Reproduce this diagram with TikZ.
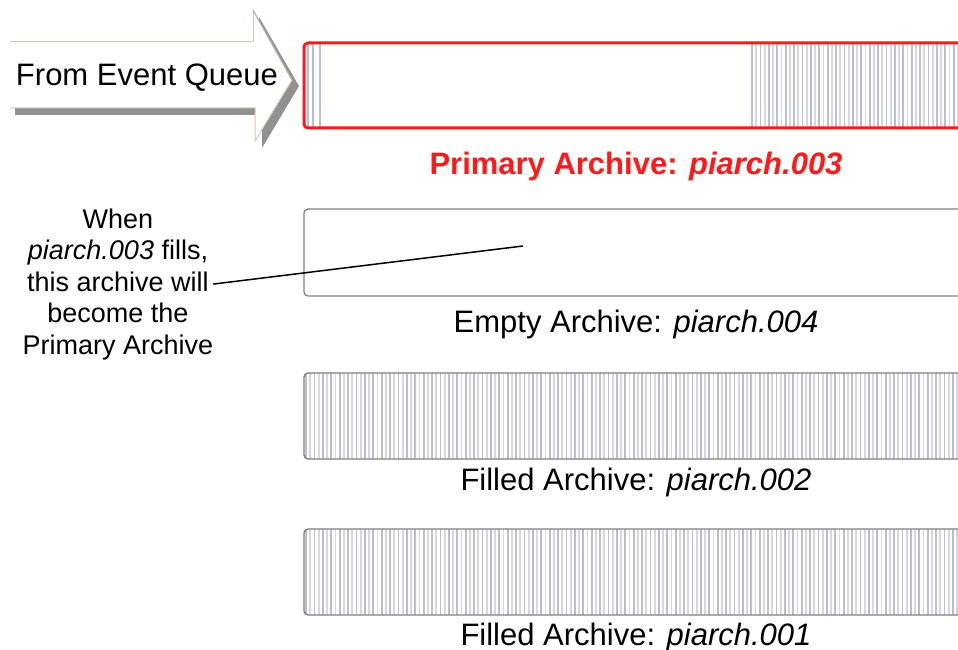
\documentclass[tikz,border=0pt]{standalone}
\usepackage{fontspec}
\setmainfont{Liberation Sans}
\usepackage{tikz}

\begin{document}
\begin{tikzpicture}[x=1pt, y=-1pt,
    inner sep=0pt, outer sep=0pt,
    archbox/.style={draw=boxgray, line width=1.3pt, rounded corners=4pt},
    primarybox/.style={draw=archred, line width=3pt, rounded corners=4pt},
    archlabel/.style={font=\fontsize{31}{36}\selectfont, anchor=base},
    primarylabel/.style={archlabel, text=archred, font=\fontsize{31}{36}\selectfont\bfseries},
    remark/.style={font=\fontsize{27}{31.5}\selectfont, align=center},
    stripe/.style={line width=1.8pt},
    pointer/.style={line width=1.5pt, black},
]
    % Colors
    \definecolor{archred}{RGB}{255,25,25}
    \definecolor{boxgray}{RGB}{128,128,128}
    \definecolor{stripedark}{RGB}{188,188,210}
    \definecolor{stripelight}{RGB}{214,214,230}
    \definecolor{arrowedge}{RGB}{215,200,180}
    \definecolor{arrowrim}{RGB}{185,175,160}
    \definecolor{arrowshadow}{RGB}{145,145,145}

    % Frame
    \useasboundingbox (0,0) rectangle (958,650);
    \clip (0,0) rectangle (958,650);

    % Incoming arrow with its shadow
    \fill[arrowshadow] (15,49) -- (259,49) -- (259,17) -- (299,86) -- (262,148)
        -- (262,115) -- (15,115) -- cycle;
    \fill[white] (10,42) -- (253,42) -- (253,10) -- (292,80) -- (255,141)
        -- (255,108) -- (10,108) -- cycle;
    \draw[arrowedge, line width=1pt] (10,42) -- (253,42) -- (253,10);
    \draw[arrowrim, line width=1.2pt] (253,10) -- (292,80);
    \draw[arrowedge, line width=1pt] (292,80) -- (255,141) -- (255,108) -- (10,108);
    \node[archlabel, anchor=base west] (queue) at (16,86) {From Event Queue};

    % Primary archive, partly filled
    \begin{scope}
        \clip[rounded corners=4pt] (304,43) rectangle (975,128);
        \foreach \x in {308,313,320}
            \draw[stripe, stripedark] (\x,43) -- (\x,128);
        \foreach \x in {752,760.4,...,975} {
            \draw[stripe, stripedark]  (\x,43) -- (\x,128);
            \draw[stripe, stripelight] (\x+4.2,43) -- (\x+4.2,128);
        }
    \end{scope}
    \draw[primarybox] (304,43) rectangle (975,128);
    \node[primarylabel] (primary) at (636,174) {Primary Archive: \textit{piarch.003}};

    % Empty archive
    \draw[archbox] (304,209) rectangle (975,296);
    \coordinate (target) at (523,246);
    \node[archlabel] (empty) at (636,332) {Empty Archive: \textit{piarch.004}};

    % Filled archives
    \foreach \top/\base/\n in {373/490/002, 529/645/001} {
        \begin{scope}
            \clip[rounded corners=4pt] (304,\top) rectangle (975,\top+86);
            \foreach \x in {306,314.4,...,975} {
                \draw[stripe, stripedark]  (\x,\top) -- (\x,\top+86);
                \draw[stripe, stripelight] (\x+4.2,\top) -- (\x+4.2,\top+86);
            }
        \end{scope}
        \draw[archbox] (304,\top) rectangle (975,\top+86);
        \node[archlabel] (filled\n) at (636,\base) {Filled Archive: \textit{piarch.\n}};
    }

    % Note on the next primary archive
    \node[remark, anchor=north] (remark) at (118,208.5)
        {When\\\textit{piarch.003} fills,\\this archive will\\become the\\Primary Archive};
    \draw[pointer] (remark.east) -- (target);
\end{tikzpicture}
\end{document}
